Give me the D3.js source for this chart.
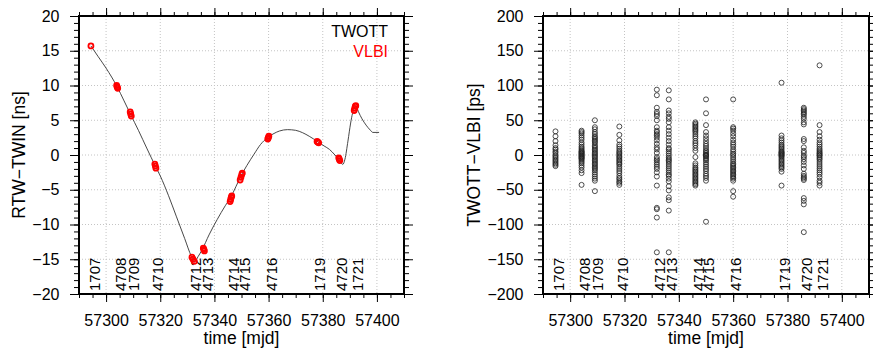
<!DOCTYPE html>
<html>
<head>
<meta charset="utf-8">
<script src="https://cdn.jsdelivr.net/npm/d3@7"></script>
<style>
  body { margin: 0; background: #fff; }
  svg { font-family: "Liberation Sans", Arial, Helvetica, sans-serif; }
</style>
</head>
<body>
<div id="app"></div>
<script>
// sessions (label + session epoch in mjd)
const sessions = ["1707", "4708", "1709", "4710", "4712", "4713", "4714", "4715", "4716", "1719", "4720", "1721"];
const sessionMjd = [57294.6, 57304.2, 57309.1, 57318.1, 57331.9, 57336.3, 57346.1, 57350.0, 57360.0, 57377.8, 57386.0, 57391.8];

// TWOTT: RTW-TWIN clock offset [ns]
const twottMjd = [57294.4, 57297, 57300, 57304.1, 57306.5, 57309.1, 57312, 57315, 57318.2, 57320, 57323, 57326, 57329,
  57331.5, 57332.6, 57334, 57335.5, 57338, 57341, 57344, 57346, 57348, 57349.7, 57352, 57354.6, 57357, 57359.6, 57362,
  57364, 57367, 57370, 57372.6, 57375, 57378.2, 57380.5, 57382.5, 57384.5, 57385.9, 57387.4, 57388.2, 57389.3, 57390.3,
  57391.0, 57391.8, 57392.3, 57393.1, 57394.5, 57396, 57397.5, 57398.5, 57400.8];
const twottNs = [15.7, 14.2, 12.5, 9.8, 7.9, 5.8, 3.5, 1.0, -1.6, -3.0, -5.8, -8.9, -12.0,
  -14.6, -15.4, -14.6, -13.6, -11.5, -9.3, -7.3, -6.1, -4.5, -3.1, -1.5, 0.1, 1.5, 2.5, 3.1,
  3.45, 3.65, 3.55, 3.2, 2.7, 1.9, 1.3, 0.8, 0.0, -0.6, -1.35, -0.6, 2.0, 4.6,
  6.0, 6.9, 7.1, 6.3, 5.2, 4.3, 3.6, 3.25, 3.25];

// VLBI: RTW-TWIN clock offset [ns]
const vlbiMjd = [57294.4,
  57303.9, 57304.1, 57304.3,
  57308.9, 57309.1, 57309.3,
  57318.0, 57318.2, 57318.4,
  57331.7, 57332.1, 57332.6,
  57335.9, 57336.1, 57336.3,
  57345.8, 57346.0, 57346.2, 57346.4,
  57349.5, 57349.8, 57350.1, 57350.3,
  57359.7, 57359.9, 57360.1,
  57377.9, 57378.2, 57378.5,
  57385.9, 57386.1, 57386.3,
  57391.6, 57391.8, 57392.0, 57392.2];
const vlbiNs = [15.7,
  10.0, 9.8, 9.6,
  6.2, 5.9, 5.6,
  -1.3, -1.6, -1.9,
  -14.7, -15.0, -15.3,
  -13.4, -13.6, -13.8,
  -6.7, -6.4, -6.1, -5.9,
  -3.6, -3.2, -2.8, -2.6,
  2.3, 2.5, 2.7,
  1.95, 1.85, 1.75,
  -0.4, -0.6, -0.8,
  6.4, 6.7, 7.0, 7.1];

// TWOTT-VLBI residuals [ps], one list per session
const residualPs = [
  [34, 27, 20, 14, 10, 8, 5, 3, 0, -2, -4, -6, -8, -10, -12, -14, -16],
  [35, 33, 31, 28, 25, 22, 18, 15, 12, 10, 8, 6, 5, 4, 3, 2, 1, 0, -1, -2, -3, -4, -5, -6, -8, -10, -12, -15, -18, -22, -26, -43],
  [50, 40, 37, 33, 30, 27, 25, 23, 21, 19, 17, 14, 12, 10, 8, 6, 4, 2, 0, -2, -4, -6, -8, -10, -12, -14, -16, -18, -20, -22, -25, -28, -31, -34, -37, -52],
  [41, 29, 21, 15, 12, 9, 6, 4, 2, 0, -2, -4, -6, -8, -10, -12, -14, -17, -20, -23, -26, -30, -33, -35, -38, -40, -43],
  [94, 86, 68, 62, 59, 56, 50, 40, 35, 33, 30, 28, 25, 21, 16, 11, 8, 3, -3, -6, -8, -11, -14, -17, -20, -25, -31, -44, -76, -78, -90, -140],
  [93, 80, 64, 60, 55, 52, 47, 40, 35, 30, 25, 20, 15, 10, 8, 5, 2, -1, -4, -6, -8, -10, -13, -16, -19, -22, -25, -28, -30, -34, -38, -45, -51, -61, -65, -80, -140],
  [47, 45, 43, 41, 39, 37, 35, 33, 30, 27, 24, 20, 17, 14, 10, 6, -3, -12, -15, -18, -20, -22, -24, -26, -28, -30, -32, -34, -36, -38, -40, -42, -44],
  [80, 60, 43, 33, 28, 24, 20, 16, 13, 10, 7, 5, 3, 1, 0, -1, -2, -4, -6, -8, -11, -14, -17, -20, -23, -27, -30, -33, -37, -96],
  [80, 40, 38, 35, 31, 27, 22, 18, 15, 12, 8, 5, 2, 0, -3, -6, -9, -12, -14, -16, -18, -20, -22, -24, -26, -28, -30, -32, -34, -37, -52, -60],
  [104, 28, 24, 21, 18, 15, 13, 11, 9, 7, 5, 4, 3, 2, 1, 0, -1, -2, -4, -6, -8, -10, -12, -14, -16, -18, -20, -24, -44],
  [68, 66, 64, 62, 60, 58, 55, 52, 47, 44, 23, 20, 11, 6, 3, -1, -3, -6, -10, -15, -20, -27, -30, -32, -34, -36, -62, -66, -71, -111],
  [129, 43, 33, 27, 22, 18, 15, 12, 9, 7, 5, 3, 2, 0, -1, -3, -5, -7, -10, -13, -16, -19, -22, -25, -28, -32, -37, -40, -44]
];

const xMajor = [57300, 57320, 57340, 57360, 57380, 57400];
const xMinor = d3.range(57290, 57411, 5);

const W = 873, H = 352;
const svg = d3.select("#app").append("svg").attr("width", W).attr("height", H);

// 1枚分のパネルを描く
function panel(opt) {
  const x = d3.scaleLinear().domain([57290, 57410]).range([opt.left, opt.right]);
  const y = d3.scaleLinear().domain(opt.yDomain).range([294, 16]);
  const g = svg.append("g");

  // grid
  g.append("g").selectAll("line").data(xMajor).join("line")
    .attr("x1", d => x(d)).attr("x2", d => x(d)).attr("y1", 16).attr("y2", 294)
    .attr("stroke", "#c4c4c4").attr("stroke-width", 1).attr("stroke-dasharray", "1,2");
  g.append("g").selectAll("line").data(opt.yMajor.filter(d => d > opt.yDomain[0] && d < opt.yDomain[1])).join("line")
    .attr("x1", opt.left).attr("x2", opt.right).attr("y1", d => y(d)).attr("y2", d => y(d))
    .attr("stroke", "#c4c4c4").attr("stroke-width", 1).attr("stroke-dasharray", "1,2");

  // axes (outward ticks on all four sides)
  const axes = [
    [d3.axisBottom(x), 294, xMajor, xMinor, 8, 4, true],
    [d3.axisTop(x), 16, xMajor, xMinor, 8, 4, false],
  ];
  axes.forEach(([ax, pos, major, minor, lMaj, lMin, labels]) => {
    const gm = g.append("g").attr("transform", `translate(0,${pos})`)
      .call(ax.tickValues(minor).tickSize(lMin).tickFormat(""));
    gm.select(".domain").remove();
    const gM = g.append("g").attr("transform", `translate(0,${pos})`)
      .call(ax.tickValues(major).tickSize(lMaj).tickPadding(13).tickFormat(labels ? d3.format("d") : ""));
    gM.select(".domain").remove();
  });
  [[d3.axisLeft(y), opt.left, true], [d3.axisRight(y), opt.right, false]].forEach(([ax, pos, labels]) => {
    const gm = g.append("g").attr("transform", `translate(${pos},0)`)
      .call(ax.tickValues(opt.yMinor).tickSize(5).tickFormat(""));
    gm.select(".domain").remove();
    const gM = g.append("g").attr("transform", `translate(${pos},0)`)
      .call(ax.tickValues(opt.yMajor).tickSize(9).tickPadding(10.5).tickFormat(labels ? d3.format("d") : ""));
    gM.select(".domain").remove();
  });
  g.selectAll(".tick line").attr("stroke", "#000").attr("stroke-width", 1);
  g.selectAll(".tick text").attr("font-size", 16).attr("fill", "#000")
    .attr("font-family", "'Liberation Sans', Arial, sans-serif");

  // frame
  g.append("rect").attr("x", opt.left).attr("y", 16)
    .attr("width", opt.right - opt.left).attr("height", 278)
    .attr("fill", "none").attr("stroke", "#000").attr("stroke-width", 2);

  // session labels
  g.append("g").selectAll("text").data(sessions).join("text")
    .attr("transform", (d, i) => `translate(${x(sessionMjd[i]) + 3},291) rotate(-90)`)
    .attr("dy", "0.35em").attr("font-size", 15).text(d => d);

  // axis titles
  g.append("text").attr("x", (opt.left + opt.right) / 2).attr("y", 344)
    .attr("text-anchor", "middle").attr("font-size", 17.5).text("time [mjd]");
  g.append("text").attr("transform", `translate(${opt.titleX},155) rotate(-90)`)
    .attr("text-anchor", "middle").attr("dy", "0.35em").attr("font-size", 17.5).text(opt.yTitle);

  return { g, x, y };
}

// 左: RTW-TWIN
const p1 = panel({
  left: 79, right: 404, yDomain: [-20, 20],
  yMajor: d3.range(-20, 21, 5), yMinor: d3.range(-20, 21, 1),
  titleX: 19, yTitle: "RTW\u2212TWIN [ns]"
});
const line = d3.line().x(d => p1.x(d[0])).y(d => p1.y(d[1])).curve(d3.curveMonotoneX);
p1.g.append("path").datum(d3.zip(twottMjd, twottNs)).attr("d", line)
  .attr("fill", "none").attr("stroke", "#333").attr("stroke-width", 0.9);
p1.g.append("g").selectAll("circle").data(d3.zip(vlbiMjd, vlbiNs)).join("circle")
  .attr("cx", d => p1.x(d[0])).attr("cy", d => p1.y(d[1])).attr("r", 2.5)
  .attr("fill", "none").attr("stroke", "#ff0000").attr("stroke-width", 1.8);
p1.g.append("text").attr("x", 388).attr("y", 37).attr("text-anchor", "end")
  .attr("font-size", 16).text("TWOTT");
p1.g.append("text").attr("x", 388).attr("y", 57).attr("text-anchor", "end")
  .attr("font-size", 16).attr("fill", "#ff0000").text("VLBI");

// 右: TWOTT-VLBI
const p2 = panel({
  left: 543, right: 869, yDomain: [-200, 200],
  yMajor: d3.range(-200, 201, 50), yMinor: d3.range(-200, 201, 10),
  titleX: 474, yTitle: "TWOTT\u2212VLBI [ps]"
});
const pts = sessionMjd.flatMap((m, i) => residualPs[i].map(v => [m, v]));
p2.g.append("g").selectAll("circle").data(pts).join("circle")
  .attr("cx", d => p2.x(d[0])).attr("cy", d => p2.y(d[1])).attr("r", 2.5)
  .attr("fill", "none").attr("stroke", "#222").attr("stroke-width", 0.8);
</script>
</body>
</html>
